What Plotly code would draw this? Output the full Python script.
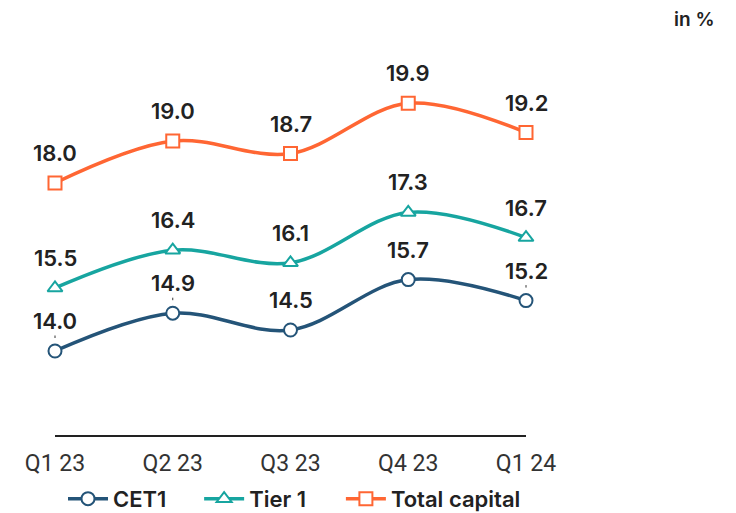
import plotly.graph_objects as go

quarters = ["Q1 23", "Q2 23", "Q3 23", "Q4 23", "Q1 24"]
cet1 = [14.0, 14.9, 14.5, 15.7, 15.2]
tier1 = [15.5, 16.4, 16.1, 17.3, 16.7]
total_capital = [18.0, 19.0, 18.7, 19.9, 19.2]

series = [
    ("CET1", cet1, "#245478", "circle", "legend", 0.017),
    ("Tier 1", tier1, "#17a5a0", "triangle-up", "legend2", 0.306),
    ("Total capital", total_capital, "#ff6633", "square", "legend3", 0.607),
]

# labels that get a short leader tick down to their point
leader = {("CET1", 0), ("CET1", 1), ("CET1", 4)}

label_font = dict(family="Inter", size=22, color="#222", weight=600)
legend_font = dict(family="Inter", size=22, color="#222", weight=600)

fig = go.Figure()
annotations = []
legends = {}
for name, vals, color, sym, leg, leg_x in series:
    fig.add_trace(go.Scatter(
        x=list(range(len(quarters))), y=vals, name=name,
        mode="lines+markers", legend=leg,
        line=dict(color=color, width=3.5, shape="spline", smoothing=1.0),
        marker=dict(symbol=sym, size=13, color="white",
                    line=dict(color=color, width=2)),
        cliponaxis=False,
    ))
    legends[leg] = dict(orientation="h", x=leg_x, xanchor="left",
                        y=-0.152, yanchor="middle", font=legend_font,
                        itemwidth=40, bgcolor="rgba(0,0,0,0)")
    for i, v in enumerate(vals):
        if (name, i) in leader:
            annotations.append(dict(
                x=i, y=v, xref="x", yref="y", text=f"{v:.1f}",
                showarrow=True, arrowhead=0, arrowwidth=1, arrowcolor="#333",
                ax=0, ay=-30, standoff=13, font=label_font,
            ))
        else:
            annotations.append(dict(
                x=i, y=v, xref="x", yref="y", text=f"{v:.1f}",
                showarrow=False, yshift=30, font=label_font,
            ))

annotations.append(dict(
    x=1.403, y=0.99, xref="paper", yref="paper", xanchor="right", yanchor="middle",
    text="in %", showarrow=False,
    font=dict(family="Inter", size=19, color="#222", weight=600),
))

fig.update_layout(
    width=736, height=513,
    margin=dict(l=55, r=210, t=15, b=78, autoexpand=False),
    paper_bgcolor="white", plot_bgcolor="white",
    showlegend=True,
    annotations=annotations,
    xaxis=dict(
        range=[0, 4], tickmode="array", tickvals=list(range(len(quarters))),
        ticktext=quarters, showgrid=False, zeroline=False, automargin=False,
        showline=True, linecolor="#222", linewidth=1.5,
        ticks="outside", ticklen=7, tickcolor="rgba(0,0,0,0)",
        tickfont=dict(family="Roboto", size=23, color="#333"),
    ),
    yaxis=dict(range=[12, 22], visible=False, showgrid=False, zeroline=False),
    **legends,
)

fig.write_html("out.html")
